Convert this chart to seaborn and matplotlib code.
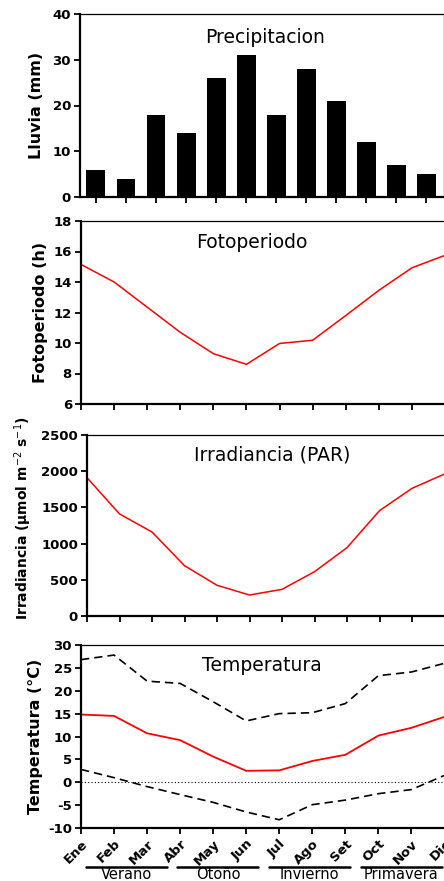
import matplotlib
matplotlib.use("Agg")
import matplotlib.pyplot as plt
import matplotlib.transforms as mtransforms
import seaborn as sns
import numpy as np
import pandas as pd

months = ["Ene", "Feb", "Mar", "Abr", "May", "Jun", "Jul", "Ago", "Set", "Oct", "Nov", "Dic"]
lluvia = [6, 4, 18, 14, 26, 31, 18, 28, 21, 12, 7, 5]
fotoperiodo = [15.15, 14.0, 12.35, 10.7, 9.3, 8.6, 9.97, 10.18, 11.8, 13.45, 14.93, 15.75]
irradiancia = [1910, 1410, 1160, 695, 424, 290, 368, 612, 944, 1455, 1763, 1961]
temp_media = [14.8, 14.5, 10.7, 9.2, 5.6, 2.5, 2.6, 4.65, 6.0, 10.2, 11.9, 14.3]
temp_max = [26.8, 27.8, 22.1, 21.6, 17.6, 13.4, 15.0, 15.2, 17.2, 23.3, 24.1, 26.0]
temp_min = [2.8, 1.0, -0.95, -2.7, -4.4, -6.5, -8.2, -4.9, -3.9, -2.5, -1.6, 1.5]
seasons = ["Verano", "Otoño", "Invierno", "Primavera"]

sns.set_style("ticks")
plt.rcParams["font.family"] = ["DejaVu Sans"]
plt.rcParams["axes.unicode_minus"] = False
for key in ["text.color", "axes.labelcolor", "xtick.color", "ytick.color", "axes.edgecolor"]:
    plt.rcParams[key] = "black"

W, H = 444, 881
fig = plt.figure(figsize=(W / 100, H / 100), dpi=100)

def add_ax(left, right, top, bottom):
    return fig.add_axes([left / W, 1 - bottom / H, (right - left) / W, (bottom - top) / H])

def style(ax):
    for s in ["left", "bottom"]:
        ax.spines[s].set_linewidth(1.6)
    for s in ["top", "right"]:
        ax.spines[s].set_visible(True)
        ax.spines[s].set_linewidth(0.9)
    for s in ax.spines.values():
        s.set_color("black")
    ax.tick_params(axis="both", direction="out", length=4.5, width=1.3, labelsize=9.5, pad=2,
                   color="black", labelcolor="black")
    for lab in ax.get_yticklabels():
        lab.set_fontweight("bold")

def title(ax, txt, xfrac, top_px):
    h_px = ax.get_position().height * H
    ax.text(xfrac, 1 - top_px / h_px, txt, transform=ax.transAxes, ha="center", va="top",
            fontsize=13.5, color="black")

def ylab(ax, txt, right_px, left_px, size=11.5, loc="center", ycoord=0.5):
    ax.set_ylabel(txt, fontsize=size, fontweight="bold", loc=loc, color="black")
    w_px = ax.get_position().width * W
    ax.yaxis.set_label_coords((right_px - left_px) / w_px, ycoord)

x = np.arange(12)
red = "#ff0000"

# Panel 1 - Precipitacion
ax1 = add_ax(80, 443.5, 14, 197)
df1 = pd.DataFrame({"mes": months, "lluvia": lluvia})
sns.barplot(data=df1, x="mes", y="lluvia", color="black", width=0.63, ax=ax1,
            saturation=1, edgecolor="none")
ax1.set_xlim(-0.53, 11.57)
ax1.set_ylim(0, 40)
ax1.set_yticks([0, 10, 20, 30, 40])
ax1.set_xticklabels([])
ax1.set_xlabel("")
ylab(ax1, "Lluvia (mm)", 44, 80)
title(ax1, "Precipitacion", 0.509, 14)
style(ax1)

# Panel 2 - Fotoperiodo
ax2 = add_ax(81, 445, 221, 404)
sns.lineplot(x=x, y=fotoperiodo, color=red, linewidth=1.1, ax=ax2)
ax2.set_xlim(0, 11)
ax2.set_ylim(6, 18)
ax2.set_yticks([6, 8, 10, 12, 14, 16, 18])
ax2.set_xticks(x)
ax2.set_xticklabels([])
ylab(ax2, "Fotoperiodo (h)", 48, 81)
title(ax2, "Fotoperiodo", 0.47, 12)
style(ax2)

# Panel 3 - Irradiancia
ax3 = add_ax(87, 444.5, 435, 616)
sns.lineplot(x=x, y=irradiancia, color=red, linewidth=1.1, ax=ax3)
ax3.set_xlim(0, 11)
ax3.set_ylim(0, 2500)
ax3.set_yticks([0, 500, 1000, 1500, 2000, 2500])
ax3.set_xticks(x)
ax3.set_xticklabels([])
ylab(ax3, "Irradiancia (µmol m$^{-2}$ s$^{-1}$)", 34, 87, size=10, loc="bottom", ycoord=-0.02)
title(ax3, "Irradiancia (PAR)", 0.517, 11)
style(ax3)

# Panel 4 - Temperatura
ax4 = add_ax(81, 444.5, 645, 828)
ax4.axhline(0, color="black", linestyle=(0, (1, 2)), linewidth=0.8)
sns.lineplot(x=x, y=temp_max, color="black", linewidth=1.2, linestyle=(0, (5, 3)), ax=ax4)
sns.lineplot(x=x, y=temp_min, color="black", linewidth=1.2, linestyle=(0, (5, 3)), ax=ax4)
sns.lineplot(x=x, y=temp_media, color=red, linewidth=1.3, ax=ax4)
ax4.set_xlim(0, 11)
ax4.set_ylim(-10, 30)
ax4.set_yticks(list(range(-10, 31, 5)))
ax4.set_xticks(x)
ax4.set_xticklabels(months, rotation=45, ha="right", rotation_mode="anchor", fontweight="bold", fontsize=8.5)
ylab(ax4, "Temperatura (°C)", 43, 81)
title(ax4, "Temperatura", 0.498, 11)
style(ax4)

trans = mtransforms.blended_transform_factory(ax4.transData, ax4.transAxes)
for k, name in enumerate(seasons):
    x0 = 0.15 + 2.77 * k
    x1 = x0 + 2.45
    ax4.plot([x0, x1], [-0.213, -0.213], transform=trans, color="black", linewidth=1.8, clip_on=False)
    ax4.text((x0 + x1) / 2, -0.281, name, transform=trans, ha="center", va="baseline",
             fontsize=10.5, color="black")

fig.savefig("out.png", dpi=100)
